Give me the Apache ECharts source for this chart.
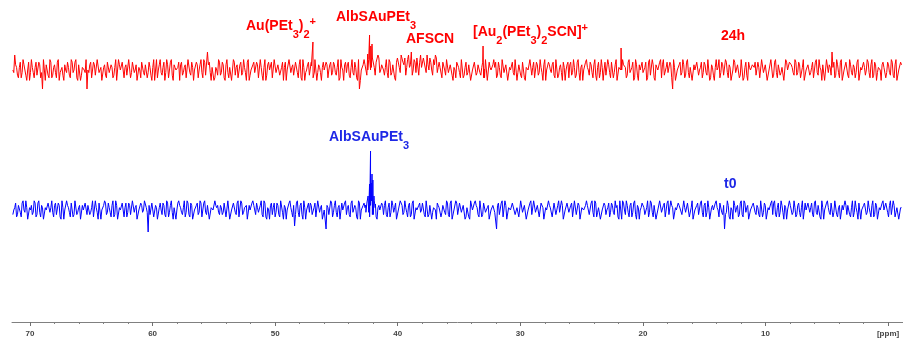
<!DOCTYPE html>
<html>
<head>
<meta charset="utf-8">
<script src="https://cdn.jsdelivr.net/npm/echarts@6.0.0/dist/echarts.min.js"></script>
<style>
  html, body { margin: 0; padding: 0; background: #fff; }
  #chart { width: 903px; height: 341px; }
</style>
</head>
<body>
<div id="chart"></div>
<script>
// spectrum sampled evenly from ppmStart down to ppmEnd
const ppmStart = 71.4;
const ppmEnd = -1.1;

// noise traces, one char per sample (digits = small offsets, letters = spikes/dips).
// "A" and "B" strings are interleaved: A0 B0 A1 B1 ...
const redNoiseA =
  "5b62847351 946382y573 9264815374 6285917364 y482739516 3847261958 2739485162 8374619527 " +
  "4619283756 1847293658 27493c8162 5938274619 3728461935 8472619385 2947361859 4738291647 " +
  "3829174658 2738461957 4829361y57 7395a68b47 56493728a4 b7396c58a3 b6947a59b4 8685947362 " +
  "8492637158 3746291857 6283947165 4917382659 3827461958 5739264817 2846391758 6372918465 " +
  "3948271659 7284619375 4618392758 293847y615 8473926158 3628491736 5947382619 4729163857 " +
  "6382947159 2847361958 7493826157 3628495719 46c8372915 8273649158 3947281657 6284937158";
const redNoiseB =
  "4736295184 6283749152 8372946158 3948271659 5728394617 2846391758 6392847158 4728361959 " +
  "3847291658 7362948157 5928374616 3847192658 6273948157 4829361758 2947386159 6384729158 " +
  "3729461857 5847392618 7364829159 75a6938a57 3928471a6b 8a6b7394a8 6a9b5837a6 6283947158 " +
  "6293847158 4738291659 8362947158 3947281659 6283947157 4829371658 7392846159 5847362918 " +
  "3728491657 6394827158 4829371659 7364829157 3928461758 5847392619 6283947158 4739281657 " +
  "8362947159 3927461858 6384729157 4829361759 7362948158 3947281656 5829374618 6473829157";

const blueNoiseA =
  "3627485916 7483926158 4928371659 6283947158 3749261857 8462937158 2847396158 496z382716 " +
  "5839274618 7462938157 3928471659 6473829158 4829367158 7364928157 3847291658 62x8473915 " +
  "473829615y 6384927158 3729461857 6847392658 3928476159 7462839157 4839271658 6274938159 " +
  "3847162958 7392846157 4y83927165 8362947158 3947286159 6283749158 4729381657 7384926158 " +
  "3628497159 5947283716 8362947159 4728396158 7394826157 3847291658 6283y47159 4739286157 " +
  "8362947158 3928471659 7463829158 4829371658 6384927159 3729461857 8462937158 5847392616";
const blueNoiseB =
  "5837294615 3928471658 6473829157 4829361758 7362948159 3847291658 6283947157 5947382618 " +
  "3728491659 6394827158 4829371657 7364829158 3928461759 5847392618 6283947159 4739281658 " +
  "8362947157 3927461859 6384729158 4829361757 7362948159 3947281658 5829374617 6473829158 " +
  "3847261959 6293847157 4738291658 8362947159 3947281657 6283947158 4829371659 7392846157 " +
  "5847362918 3728491658 6394827159 4829371657 7364829158 3928461759 5847392617 6283947158 " +
  "4739281659 8362947157 3927461858 6384729159 4829361757 7362948158 3947281659 5829374616";

// peaks above baseline: [ppm, height]
const redPeaks = [
  [47.05, 4], [46.92, 28], [46.8, -2],
  [42.7, 10], [42.45, 16], [42.3, 35], [42.2, 24], [42.1, 26], [41.95, 12], [41.7, 9],
  [33.12, 3], [33.04, 24], [32.95, 1],
  [21.85, 2], [21.78, 22], [21.7, 0]
];
const bluePeaks = [
  [42.6, 5], [42.42, 14], [42.3, 26], [42.22, 59], [42.16, 27],
  [42.1, 36], [42.03, 30], [41.94, 14], [41.82, 6]
];

const codeValues = { a: 12, b: 15, c: 18, d: 21, w: -14, x: -16, y: -19, z: -22 };

function buildTrace(noiseA, noiseB, peaks, scale) {
  const a = noiseA.replace(/\s/g, "");
  const b = noiseB.replace(/\s/g, "");
  const chars = [];
  for (let i = 0; i < a.length; i++) {
    chars.push(a[i]);
    if (i < b.length) chars.push(b[i]);
  }
  const n = chars.length;
  const step = (ppmStart - ppmEnd) / (n - 1);
  const pts = [];
  for (let i = 0; i < n; i++) {
    const ch = chars[i];
    const v = ch in codeValues ? codeValues[ch] : (Number(ch) - 5) * scale;
    pts.push([ppmStart - i * step, v]);
  }
  peaks.forEach((p) => pts.push(p));
  pts.sort((p, q) => q[0] - p[0]);
  return pts;
}

const majorTicks = [70, 60, 50, 40, 30, 20, 10, 0];
const minorTicks = [68, 66, 64, 62, 58, 56, 54, 52, 48, 46, 44, 42, 38, 36, 34, 32,
  28, 26, 24, 22, 18, 16, 14, 12, 8, 6, 4, 2];

const RED = "#ff0000";
const BLUE = "#0000ff";
const BLUE_TEXT = "#1e28e6";

function richStyles(color) {
  const base = { fontFamily: "Liberation Sans", fontWeight: "bold", fill: color };
  return {
    m: { ...base, fontSize: 14, lineHeight: 15, padding: [3, 0, 0, 0], verticalAlign: "top" },
    s: { ...base, fontSize: 11, lineHeight: 10, padding: [13, 0, 0, 0], verticalAlign: "top" },
    p: { ...base, fontSize: 11, lineHeight: 10, verticalAlign: "top" }
  };
}

// y is the vertical centre of the main (capital) letters
function label(x, y, text, color) {
  return {
    type: "text",
    x: x,
    y: y - 10.5,
    style: {
      text: text,
      rich: richStyles(color),
      fill: color,
      align: "left",
      verticalAlign: "top"
    }
  };
}

const chart = echarts.init(document.getElementById("chart"));

const axisCommon = {
  type: "value",
  min: ppmEnd - 0.12,
  max: ppmStart + 0.07,
  inverse: true,
  position: "bottom",
  splitLine: { show: false }
};

chart.setOption({
  animation: false,
  grid: { left: 12, right: 0, top: 0, bottom: 19 },
  xAxis: [
    {
      ...axisCommon,
      axisLine: { onZero: false, lineStyle: { color: "#808080", width: 1 } },
      axisTick: { customValues: majorTicks, length: 4, lineStyle: { color: "#707070" } },
      axisLabel: {
        customValues: majorTicks,
        margin: 8,
        fontSize: 8,
        fontWeight: "bold",
        color: "#444",
        formatter: (v) => (v === 0 ? "[ppm]" : String(v))
      }
    },
    {
      ...axisCommon,
      axisLine: { show: false, onZero: false },
      axisTick: { customValues: minorTicks, length: 2, lineStyle: { color: "#808080" } },
      axisLabel: { show: false }
    }
  ],
  yAxis: [
    { type: "value", min: -252, max: 70, show: false },
    { type: "value", min: -112, max: 210, show: false }
  ],
  series: [
    {
      name: "24h",
      type: "line",
      xAxisIndex: 0,
      yAxisIndex: 0,
      showSymbol: false,
      lineStyle: { color: RED, width: 1 },
      data: buildTrace(redNoiseA, redNoiseB, redPeaks, 2.6)
    },
    {
      name: "t0",
      type: "line",
      xAxisIndex: 0,
      yAxisIndex: 1,
      showSymbol: false,
      lineStyle: { color: BLUE, width: 1 },
      data: buildTrace(blueNoiseA, blueNoiseB, bluePeaks, 2.3)
    }
  ],
  graphic: [
    label(246, 27, "{m|Au(PEt}{s|3}{m|)}{s|2}{p|+}", RED),
    label(336, 18, "{m|AlbSAuPEt}{s|3}", RED),
    label(406, 40, "{m|AFSCN}", RED),
    label(473, 33, "{m|[Au}{s|2}{m|(PEt}{s|3}{m|)}{s|2}{m|SCN]}{p|+}", RED),
    label(721, 37, "{m|24h}", RED),
    label(329, 138, "{m|AlbSAuPEt}{s|3}", BLUE_TEXT),
    label(724, 185, "{m|t0}", BLUE_TEXT)
  ]
});
</script>
</body>
</html>
